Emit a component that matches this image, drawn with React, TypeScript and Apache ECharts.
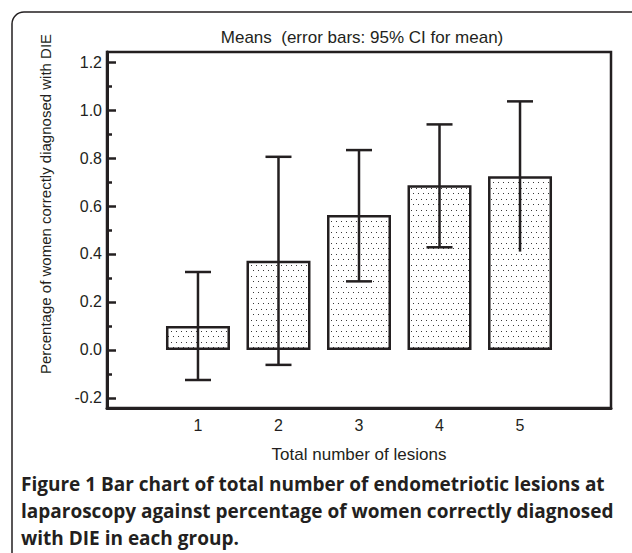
import React, { useEffect, useRef } from 'react';
import * as echarts from 'echarts';

const categories = [1, 2, 3, 4, 5];
const means = [0.1, 0.372, 0.562, 0.686, 0.724];
const ciLow = [-0.125, -0.062, 0.286, 0.428, 0.41];
const ciHigh = [0.325, 0.805, 0.833, 0.94, 1.036];
const lowerCapShown = [1, 1, 1, 1, 0];
const yMajorTicks = [-0.2, 0, 0.2, 0.4, 0.6, 0.8, 1.0, 1.2];
const yMinorTicks = [-0.1, 0.1, 0.3, 0.5, 0.7, 0.9, 1.1];

const titleText = 'Means  (error bars: 95% CI for mean)';
const yName = 'Percentage of women correctly diagnosed with DIE';
const xName = 'Total number of lesions';
const captionLines = [
  'Figure 1 Bar chart of total number of endometriotic lesions at',
  'laparoscopy against percentage of women correctly diagnosed',
  'with DIE in each group.',
];

const ink = '#231f20';
const font = '"Liberation Sans", Arial, Helvetica, sans-serif';

const dotSvg =
  "<svg xmlns='http://www.w3.org/2000/svg' width='5' height='11'>" +
  "<rect width='5' height='11' fill='white'/>" +
  "<rect x='1' y='1' width='1' height='1' fill='#3a3a3a'/>" +
  "<rect x='3' y='6' width='1' height='1' fill='#3a3a3a'/>" +
  '</svg>';
const dotUrl = 'data:image/svg+xml;charset=utf-8,' + encodeURIComponent(dotSvg);

export default function App() {
  const ref = useRef<HTMLDivElement>(null);
  useEffect(() => {
    if (!ref.current) return;
    const chart = echarts.init(ref.current, null, { renderer: 'svg' });
    const yBase = {
      type: 'value',
      min: -0.2417,
      max: 1.2417,
      position: 'left',
      splitLine: { show: false },
    };
    const option: any = {
      animation: false,
      backgroundColor: '#ffffff',
      grid: {
        left: 107,
        top: 52,
        right: 21,
        bottom: 145,
        show: true,
        borderColor: ink,
        borderWidth: 2.5,
        backgroundColor: 'transparent',
      },
      xAxis: {
        type: 'value',
        min: -0.13,
        max: 6.13,
        axisLine: { show: true, onZero: false, lineStyle: { color: ink, width: 3 } },
        axisTick: { show: false },
        splitLine: { show: false },
        axisLabel: {
          customValues: categories,
          color: ink,
          fontSize: 16,
          fontFamily: font,
          margin: 9,
        },
        name: xName,
        nameLocation: 'middle',
        nameGap: 38,
        nameTextStyle: { color: ink, fontSize: 17, fontFamily: font },
      },
      yAxis: [
        {
          ...yBase,
          axisLine: { show: true, onZero: false, lineStyle: { color: ink, width: 3 } },
          axisTick: {
            show: true,
            inside: true,
            length: 9,
            customValues: yMajorTicks,
            lineStyle: { color: ink, width: 2.5 },
          },
          axisLabel: {
            customValues: yMajorTicks,
            formatter: (v: number) => v.toFixed(1),
            color: ink,
            fontSize: 16,
            fontFamily: font,
            margin: 5,
          },
        },
        {
          ...yBase,
          axisLine: { show: false, onZero: false },
          axisTick: {
            show: true,
            inside: true,
            length: 5,
            customValues: yMinorTicks,
            lineStyle: { color: ink, width: 2.5 },
          },
          axisLabel: { show: false },
        },
      ],
      series: [
        {
          type: 'bar',
          data: categories.map((c, i) => [c, means[i]]),
          barWidth: 64,
          itemStyle: {
            color: { image: dotUrl, repeat: 'repeat', imageWidth: 5, imageHeight: 11 },
            borderColor: ink,
            borderWidth: 2.5,
          },
          z: 2,
        },
        {
          type: 'custom',
          data: categories.map((c, i) => [c, ciLow[i], ciHigh[i], lowerCapShown[i]]),
          encode: { x: 0, y: [1, 2] },
          z: 10,
          renderItem: (params: any, api: any) => {
            const x = api.value(0);
            const lo = api.value(1);
            const hi = api.value(2);
            const cap = api.value(3);
            const top = api.coord([x, hi]);
            const bot = api.coord([x, lo]);
            const hw = 13;
            const style = { stroke: ink, lineWidth: 2.5 };
            const children: any[] = [
              { type: 'line', shape: { x1: top[0], y1: top[1], x2: bot[0], y2: bot[1] }, style },
              { type: 'line', shape: { x1: top[0] - hw, y1: top[1], x2: top[0] + hw, y2: top[1] }, style },
            ];
            if (cap) {
              children.push({
                type: 'line',
                shape: { x1: bot[0] - hw, y1: bot[1], x2: bot[0] + hw, y2: bot[1] },
                style,
              });
            }
            return { type: 'group', children };
          },
        },
      ],
      graphic: [
        {
          type: 'rect',
          shape: { x: 12, y: 12, width: 900, height: 900, r: 12 },
          style: { fill: 'none', stroke: ink, lineWidth: 1.5 },
          silent: true,
        },
        {
          type: 'text',
          x: 362,
          y: 37,
          style: {
            text: titleText,
            fill: ink,
            font: `17px ${font}`,
            textAlign: 'center',
            textVerticalAlign: 'middle',
          },
        },
        {
          type: 'text',
          x: 45,
          y: 204,
          rotation: Math.PI / 2,
          style: {
            text: yName,
            fill: ink,
            font: `15px ${font}`,
            textAlign: 'center',
            textVerticalAlign: 'middle',
          },
        },
        ...captionLines.map((line, i) => ({
          type: 'text',
          x: 21,
          y: 484 + i * 27,
          style: {
            text: line,
            fill: ink,
            font: `bold 19px "Open Sans", "Noto Sans", sans-serif`,
            textAlign: 'left',
            textVerticalAlign: 'middle',
          },
        })),
      ],
    };
    chart.setOption(option);
    return () => chart.dispose();
  }, []);
  return (
    <div
      ref={ref}
      style={{ position: 'fixed', left: 0, top: 0, width: 632, height: 553, background: '#fff' }}
    />
  );
}
